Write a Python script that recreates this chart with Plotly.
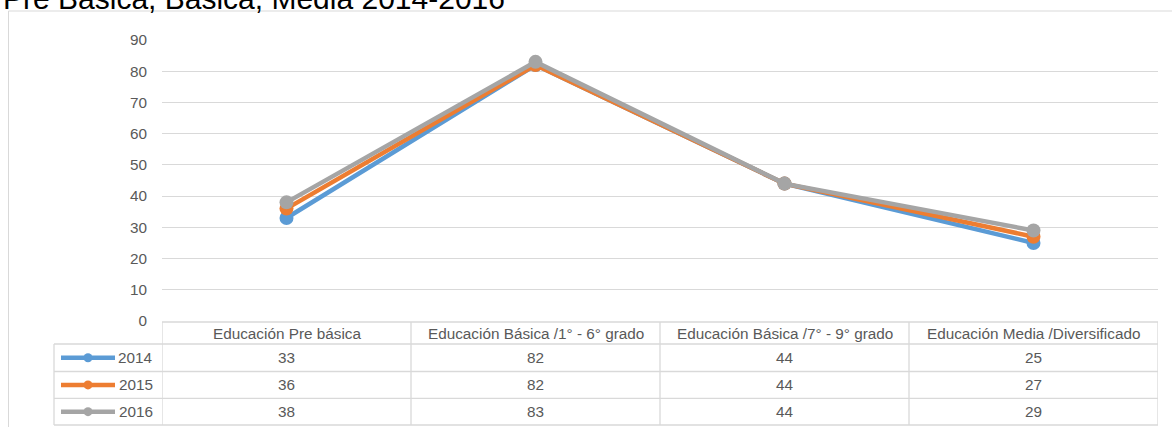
import plotly.graph_objects as go

categories = ["Educación Pre básica", "Educación Básica /1° - 6° grado",
              "Educación Básica /7° - 9° grado", "Educación Media /Diversificado"]
years = ["2014", "2015", "2016"]
v2014 = [33, 82, 44, 25]
v2015 = [36, 82, 44, 27]
v2016 = [38, 83, 44, 29]
series = [v2014, v2015, v2016]
colors = ["#5B9BD5", "#ED7D31", "#A5A5A5"]
y_ticks = [0, 10, 20, 30, 40, 50, 60, 70, 80, 90]
title = "Pre Básica, Básica, Media 2014-2016"

W, H = 1172, 427
L, R = 162, 1158
T, B = 40, 321
PW, PH = R - L, B - T
FAM = "Liberation Sans, Arial, sans-serif"
FS = 15.3


def pxx(px):
    return (px - L) / PW


def pxy(py):
    return (B - py) / PH


fig = go.Figure()
for name, vals, col in zip(years, series, colors):
    fig.add_trace(go.Scatter(
        x=categories, y=vals, name=name, mode="lines+markers",
        line=dict(color=col, width=4.5),
        marker=dict(color=col, size=14),
        showlegend=False, hoverinfo="skip"))

txt = "#595959"
grid = "#D9D9D9"
shapes = []
annotations = []

# outer chart border
shapes.append(dict(type="rect", xref="paper", yref="paper",
                   x0=pxx(8.5), x1=pxx(1190), y0=pxy(11), y1=pxy(450),
                   line=dict(color=grid, width=1), fillcolor="rgba(0,0,0,0)", layer="below"))

# table lines
row_lines = [322, 344, 371.5, 398.3, 425]
n = len(categories)
shapes.append(dict(type="line", xref="x", yref="paper", x0=-0.5, x1=n - 0.5,
                   y0=pxy(row_lines[0]), y1=pxy(row_lines[0]), line=dict(color=grid, width=1.3)))
for ry in row_lines[1:]:
    shapes.append(dict(type="line", xref="paper", yref="paper", x0=pxx(54), x1=1,
                       y0=pxy(ry), y1=pxy(ry), line=dict(color=grid, width=1.3)))
for i in range(n + 1):
    shapes.append(dict(type="line", xref="x", yref="paper", x0=i - 0.5, x1=i - 0.5,
                       y0=pxy(row_lines[0]), y1=pxy(row_lines[-1]), line=dict(color=grid, width=1.3)))
shapes.append(dict(type="line", xref="paper", yref="paper", x0=pxx(54), x1=pxx(54),
                   y0=pxy(row_lines[1]), y1=pxy(row_lines[-1]), line=dict(color=grid, width=1.3)))

font = dict(family=FAM, size=FS, color=txt)
for c in categories:
    annotations.append(dict(x=c, xref="x", y=pxy((row_lines[0] + row_lines[1]) / 2), yref="paper",
                            text=c, showarrow=False, font=font, xanchor="center", yanchor="middle"))
for r, (name, vals, col) in enumerate(zip(years, series, colors)):
    cy = (row_lines[r + 1] + row_lines[r + 2]) / 2
    for c, v in zip(categories, vals):
        annotations.append(dict(x=c, xref="x", y=pxy(cy), yref="paper", text=str(v),
                                showarrow=False, font=font, xanchor="center", yanchor="middle"))
    annotations.append(dict(x=pxx(155), xref="paper", y=pxy(cy), yref="paper", text=name,
                            showarrow=False, font=font, xanchor="right", yanchor="middle"))
    ky = cy
    shapes.append(dict(type="line", xref="paper", yref="paper", x0=pxx(61), x1=pxx(115),
                       y0=pxy(ky), y1=pxy(ky), line=dict(color=col, width=4.5)))
    shapes.append(dict(type="circle", xref="paper", yref="paper",
                       x0=pxx(88 - 4.5), x1=pxx(88 + 4.5), y0=pxy(ky + 4.5), y1=pxy(ky - 4.5),
                       line=dict(color=col, width=0), fillcolor=col))

# title (partially cut off at top in the reference)
annotations.append(dict(x=pxx(1), xref="paper", y=pxy(-2), yref="paper", text=title,
                        showarrow=False, xanchor="left", yanchor="middle",
                        font=dict(family=FAM, size=30, color="#000000")))

fig.update_layout(
    width=W, height=H,
    margin=dict(l=L, r=W - R, t=T, b=H - B, pad=0),
    paper_bgcolor="white", plot_bgcolor="white",
    shapes=shapes, annotations=annotations,
    xaxis=dict(type="category", range=[-0.5, n - 0.5], showticklabels=False,
               showgrid=False, zeroline=False, showline=False, ticks=""),
    yaxis=dict(range=[0, 90], tickvals=y_ticks, showgrid=True, gridcolor=grid, gridwidth=1.3,
               zeroline=False, showline=False, ticks="", ticklabelstandoff=14,
               tickfont=dict(family=FAM, size=FS, color=txt)),
)
fig.write_html("out.html", config={"displayModeBar": False},
               post_script="document.body.style.margin='0';document.body.style.overflow='hidden';")
